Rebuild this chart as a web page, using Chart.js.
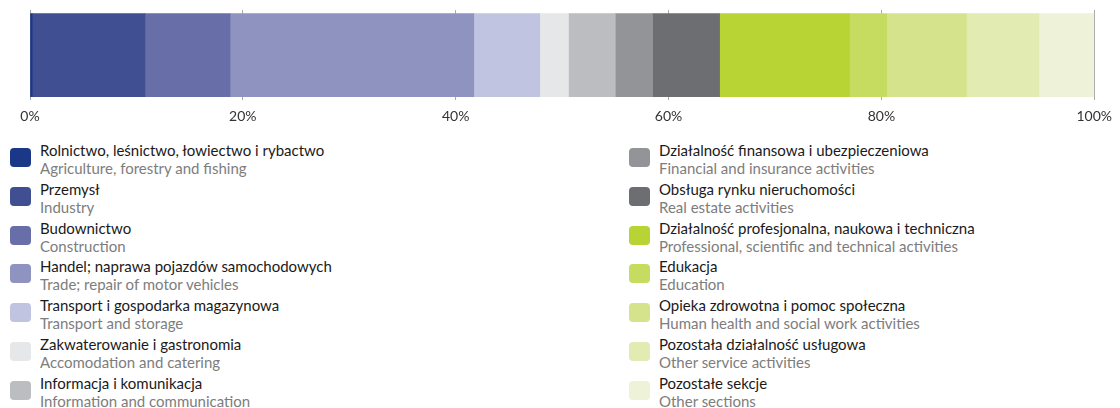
<!DOCTYPE html>
<html>
<head>
<meta charset="utf-8">
<script src="https://cdn.jsdelivr.net/npm/chart.js@4/dist/chart.umd.min.js"></script>
<style>
  body { margin: 0; background: #fff; font-family: Lato, "Open Sans", sans-serif; }
  #wrap { position: relative; width: 1120px; height: 408px; overflow: hidden; }
  #chartBox { position: absolute; left: 0; top: 3px; width: 1120px; height: 130px; }
  .item { position: absolute; height: 36px; }
  .sw { position: absolute; left: 0; top: 7px; width: 21px; height: 19px; border-radius: 4px; }
  .pl { position: absolute; left: 30px; top: 0; font-size: 15px; line-height: 18px; color: #1a1a1a; white-space: nowrap; }
  .en { position: absolute; left: 30px; top: 18px; font-size: 15px; line-height: 18px; color: #7d7d7d; white-space: nowrap; }
</style>
</head>
<body>
<div id="wrap">
  <div id="chartBox"><canvas id="chart_sectors"></canvas></div>
  <div id="legend"></div>
</div>
<script>
// sector names (Polish / English) and their share in %
var sectorsPL = [
  "Rolnictwo, leśnictwo, łowiectwo i rybactwo",
  "Przemysł",
  "Budownictwo",
  "Handel; naprawa pojazdów samochodowych",
  "Transport i gospodarka magazynowa",
  "Zakwaterowanie i gastronomia",
  "Informacja i komunikacja",
  "Działalność finansowa i ubezpieczeniowa",
  "Obsługa rynku nieruchomości",
  "Działalność profesjonalna, naukowa i techniczna",
  "Edukacja",
  "Opieka zdrowotna i pomoc społeczna",
  "Pozostała działalność usługowa",
  "Pozostałe sekcje"
];
var sectorsEN = [
  "Agriculture, forestry and fishing",
  "Industry",
  "Construction",
  "Trade; repair of motor vehicles",
  "Transport and storage",
  "Accomodation and catering",
  "Information and communication",
  "Financial and insurance activities",
  "Real estate activities",
  "Professional, scientific and technical activities",
  "Education",
  "Human health and social work activities",
  "Other service activities",
  "Other sections"
];
var shares = [0.2, 10.6, 8.0, 22.9, 6.2, 2.7, 4.4, 3.5, 6.3, 12.2, 3.5, 7.5, 6.8, 5.2];
var axisTicks = [0, 20, 40, 60, 80, 100];

var colors = [
  "#1b3787", "#3f4f91", "#676ea8", "#8e93c0", "#c0c4e0", "#e6e7e9", "#bcbdc1",
  "#939498", "#6d6e72", "#b7d334", "#c5dc60", "#d5e48c", "#e2ebb2", "#edf2d8"
];

// one dataset per sector, stacked into a single horizontal bar
var datasets = [];
shares.forEach(function (v, i) {
  datasets.push({
    label: sectorsPL[i],
    data: [v],
    backgroundColor: colors[i],
    borderWidth: 0,
    barThickness: 83
  });
});

var ctx = document.getElementById('chart_sectors').getContext('2d');
var chartSectors = new Chart(ctx, {
  type: 'bar',
  data: { labels: [''], datasets: datasets },
  options: {
    indexAxis: 'y',
    responsive: true,
    maintainAspectRatio: false,
    animation: false,
    layout: { padding: { left: 30, right: 22, top: 7, bottom: 0 } },
    plugins: { legend: { display: false }, tooltip: { enabled: false } },
    scales: {
      x: {
        stacked: true,
        min: 0,
        max: 100,
        afterBuildTicks: function (axis) {
          axis.ticks = axisTicks.map(function (t) { return { value: t }; });
        },
        border: { display: false },
        grid: { color: '#a8a8a8', lineWidth: 1, drawTicks: false },
        ticks: {
          padding: 8,
          color: '#333',
          font: { family: 'Lato, "Open Sans", sans-serif', size: 14 },
          maxRotation: 0,
          callback: function (v) { return v + '%'; }
        }
      },
      y: { stacked: true, display: false }
    }
  }
});

// two-column legend: Polish name on top, English below
var legend = document.getElementById('legend');
sectorsPL.forEach(function (name, i) {
  var col = i < 7 ? 0 : 1;
  var row = i % 7;
  var item = document.createElement('div');
  item.className = 'item';
  item.style.left = (col === 0 ? 10 : 629) + 'px';
  item.style.top = (141 + row * 38.8) + 'px';
  item.innerHTML = '<div class="sw" style="background:' + colors[i] + '"></div>' +
    '<div class="pl">' + name + '</div>' +
    '<div class="en">' + sectorsEN[i] + '</div>';
  legend.appendChild(item);
});
</script>
</body>
</html>
